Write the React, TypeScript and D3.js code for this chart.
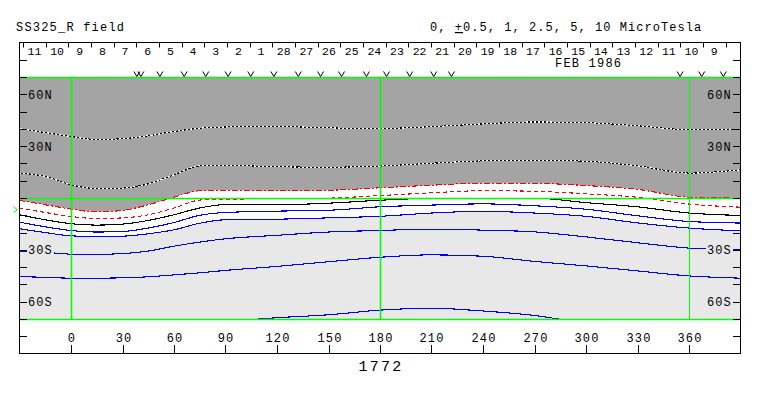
import { useEffect, useRef } from "react";
import * as d3 from "d3";

// Carrington longitudes sampled for the contour lines (lat in degrees)
const lons = [-30, -15, 0, 15, 30, 45, 60, 75, 90, 120, 150, 180, 210, 240, 270, 300, 330, 360, 390];
const dotted1 = [40.1, 37.9, 35.6, 33.8, 34.3, 36.0, 38.5, 40.4, 41.1, 41.4, 40.6, 40.2, 41.3, 42.9, 44.0, 43.6, 41.8, 39.5, 39.9];
const dotted2 = [14.4, 12.5, 7.6, 5.5, 5.7, 8.2, 13.4, 18.6, 18.9, 18.1, 17.8, 18.5, 20.1, 21.5, 21.9, 21.3, 18.6, 14.4, 16.3];
const redUpper = [-1.4, -3.9, -6.4, -8.0, -7.2, -3.9, 0.5, 4.2, 4.6, 4.2, 4.5, 5.9, 7.4, 8.6, 8.5, 7.2, 5.0, 0.5, -0.1];
const redLower = [-5.8, -8.4, -10.7, -11.9, -11.5, -9.7, -5.8, -1.2, -0.6, -0.5, -0.1, 1.4, 3.0, 4.2, 3.9, 2.4, 0.4, -3.5, -5.3];
const blackLine = [-9.7, -12.6, -14.9, -15.7, -15.1, -13.0, -9.7, -5.8, -3.8, -3.9, -3.0, -1.3, -0.2, -0.1, -0.1, -2.7, -5.1, -8.7, -10.1];
const blue1 = [-14.0, -16.7, -18.8, -19.7, -19.4, -17.4, -14.2, -10.0, -8.4, -7.6, -7.1, -5.1, -4.1, -3.4, -4.5, -6.5, -10.3, -13.6, -14.5];
const blue2 = [-17.8, -20.0, -21.9, -22.3, -22.1, -20.7, -18.4, -14.6, -12.6, -12.3, -11.5, -10.6, -8.7, -7.7, -8.7, -10.6, -14.4, -17.4, -19.0];
const blue3 = [-30.9, -31.4, -32.5, -32.6, -32.2, -30.7, -27.9, -25.5, -23.6, -21.6, -19.7, -18.8, -18.0, -18.6, -19.6, -22.5, -25.9, -29.0, -30.0];
const blue4 = [-45.5, -45.9, -46.4, -46.4, -46.2, -45.6, -44.5, -43.3, -41.9, -39.6, -36.9, -34.3, -32.9, -33.7, -36.7, -39.3, -42.2, -45.1, -46.4];
const blue5Lons = [60, 90, 120, 150, 180, 210, 240, 270, 300, 330];
const blue5 = [-74.5, -71.5, -69.3, -67.6, -64.9, -63.8, -65.4, -68.0, -72.5, -75.5];

// observation markers along the top
const passLons = [38.4, 40.7, 51.8, 65.9, 78.5, 91.5, 104.7, 118.2, 132.4, 145.4, 157.6, 172.1, 183.8, 197.3, 211.3, 221.6, 354.8, 367.4, 380.0];
const lonTicks = [0, 30, 60, 90, 120, 150, 180, 210, 240, 270, 300, 330, 360];
const latTicks = [-80, -70, -60, -50, -40, -30, -20, -10, 0, 10, 20, 30, 40, 50, 60, 70, 80];
const latLabels = [
  { lat: 60, text: "60N" },
  { lat: 30, text: "30N" },
  { lat: -30, text: "30S" },
  { lat: -60, text: "60S" },
];
const greenLons = [0, 180, 360];
const greenLats = [70, 0, -70];
const earthLat = -6.8;
const crStart = Date.UTC(1986, 1, 10, 14, 40); // lon 360
const crDays = 27.2753;

const FONT = "'Liberation Mono', 'DejaVu Sans Mono', monospace";
const GRAY = "#a4a4a4";
const LIGHT = "#e8e8e8";
const GREEN = "#00ff00";

export default function App() {
  const svgRef = useRef<SVGSVGElement>(null);

  useEffect(() => {
    if (!svgRef.current) return;
    const svg = d3.select(svgRef.current);
    svg.selectAll("*").remove();

    const x = d3.scaleLinear().domain([-30, 390]).range([19.5, 740.5]);
    const y = d3.scaleLinear().domain([90, -90]).range([42.5, 353.5]);

    const x0 = x(-30), x1 = x(390);
    const yTop = y(70), yBot = y(-70);

    svg.append("rect").attr("width", 763).attr("height", 396).attr("fill", "#fff");

    const clip = svg.append("defs").append("clipPath").attr("id", "map");
    clip.append("rect").attr("x", x0).attr("y", yTop).attr("width", x1 - x0).attr("height", yBot - yTop);

    const map = svg.append("g").attr("clip-path", "url(#map)");

    map.append("rect").attr("x", x0).attr("y", yTop).attr("width", x1 - x0).attr("height", yBot - yTop).attr("fill", LIGHT);

    const whiteArea = d3.area<number>()
      .x((_, i) => x(lons[i]))
      .y0((_, i) => y(blue2[i]))
      .y1((d) => y(d))
      .curve(d3.curveMonotoneX);
    map.append("path").attr("d", whiteArea(redUpper)).attr("fill", "#fff");

    const grayArea = d3.area<number>()
      .x((_, i) => x(lons[i]))
      .y0((d) => y(d))
      .y1(() => y(72))
      .curve(d3.curveMonotoneX);
    map.append("path").attr("d", grayArea(redUpper)).attr("fill", GRAY);

    // horizontal green lines under the contours
    greenLats.forEach((lat) => {
      const yy = Math.round(y(lat)) + 0.5;
      svg.append("line").attr("x1", x0).attr("x2", x1).attr("y1", yy).attr("y2", yy)
        .attr("stroke", GREEN).attr("stroke-width", 1.6);
    });

    const line = d3.line<number>()
      .x((_, i) => x(lons[i]))
      .y((d) => y(d))
      .curve(d3.curveMonotoneX);

    const draw = (vals: number[], color: string, dash?: string) => {
      const p = map.append("path").attr("d", line(vals)).attr("fill", "none")
        .attr("stroke", color).attr("stroke-width", 1.1).attr("shape-rendering", "crispEdges");
      if (dash) p.attr("stroke-dasharray", dash);
    };

    [dotted1, dotted2].forEach((vals) => {
      draw(vals, "#000");
      draw(vals, "#fff", "2,2");
    });
    draw(redUpper, "#ff0000", "6,2,2,2");
    draw(redLower, "#ff0000", "4,3");
    draw(blackLine, "#000");
    [blue1, blue2, blue3, blue4].forEach((vals) => draw(vals, "#0000ff"));

    const line5 = d3.line<number>()
      .x((_, i) => x(blue5Lons[i]))
      .y((d) => y(d))
      .curve(d3.curveMonotoneX);
    map.append("path").attr("d", line5(blue5)).attr("fill", "none").attr("stroke", "#0000ff")
      .attr("stroke-width", 1.1).attr("shape-rendering", "crispEdges");

    // vertical green lines on top
    greenLons.forEach((lon) => {
      const wide = lon !== 360;
      const xx = Math.round(x(lon)) + 0.5;
      svg.append("line").attr("x1", xx).attr("x2", xx)
        .attr("y1", yTop).attr("y2", yBot).attr("stroke", GREEN).attr("stroke-width", wide ? 1.6 : 1);
    });

    // latitude labels with background boxes
    latLabels.forEach((d) => {
      const bg = d.lat > 0 ? GRAY : LIGHT;
      const yy = y(d.lat);
      svg.append("rect").attr("x", 27).attr("y", yy - 5).attr("width", 27).attr("height", 10).attr("fill", bg);
      svg.append("rect").attr("x", 706).attr("y", yy - 5).attr("width", 27).attr("height", 10).attr("fill", bg);
      svg.append("text").attr("x", 28).attr("y", yy + 4.5).attr("font-family", FONT).attr("font-size", 12)
        .attr("letter-spacing", 1.1).attr("fill", "#000").text(d.text);
      svg.append("text").attr("x", 707).attr("y", yy + 4.5).attr("font-family", FONT).attr("font-size", 12)
        .attr("letter-spacing", 1.1).attr("fill", "#000").text(d.text);
    });

    // latitude ticks
    latTicks.forEach((lat) => {
      const yy = Math.round(y(lat)) + 0.5;
      svg.append("line").attr("x1", 19).attr("x2", 27).attr("y1", yy).attr("y2", yy).attr("stroke", "#000");
      svg.append("line").attr("x1", 733).attr("x2", 741).attr("y1", yy).attr("y2", yy).attr("stroke", "#000");
    });

    // longitude axis
    lonTicks.forEach((lon) => {
      const xx = Math.round(x(lon)) + 0.5;
      svg.append("line").attr("x1", xx).attr("x2", xx).attr("y1", 345).attr("y2", 353.5).attr("stroke", "#000");
      svg.append("text").attr("x", xx + 0.5).attr("y", 341.5).attr("text-anchor", "middle")
        .attr("font-family", FONT).attr("font-size", 12).attr("letter-spacing", 1.1).attr("fill", "#000")
        .text(String(lon));
    });

    // time axis along the top (days of earth passage)
    const dateAt = (lon: number) => new Date(crStart + ((360 - lon) / 360) * crDays * 864e5);
    const t = d3.scaleUtc().domain([dateAt(-30), dateAt(390)]).range([x0, x1]);
    const days = d3.utcDay.range(dateAt(390), dateAt(-30));
    days.forEach((d) => {
      const xx = Math.round(t(d)) + 0.5;
      svg.append("line").attr("x1", xx).attr("x2", xx).attr("y1", 42.5).attr("y2", 47.5).attr("stroke", "#000");
      const c = t(new Date(d.getTime() + 12 * 3600e3));
      if (c > x0 + 6 && c < x1 - 6) {
        svg.append("text").attr("x", c).attr("y", 55).attr("text-anchor", "middle")
          .attr("font-family", FONT).attr("font-size", 11.5).attr("fill", "#000")
          .text(String(d.getUTCDate()));
      }
    });

    // observation markers
    passLons.forEach((lon) => {
      const xx = x(lon);
      svg.append("path").attr("d", `M${xx - 3},71.5L${xx},76.5L${xx + 3},71.5`)
        .attr("fill", "none").attr("stroke", "#000").attr("stroke-width", 1);
    });

    // earth latitude marker
    const ye = y(earthLat);
    svg.append("path").attr("d", `M13.5,${ye - 3}L17.5,${ye}L13.5,${ye + 3}`)
      .attr("fill", "none").attr("stroke", GREEN).attr("stroke-width", 1);

    // frame
    svg.append("rect").attr("x", 19.5).attr("y", 42.5).attr("width", 721).attr("height", 311)
      .attr("fill", "none").attr("stroke", "#000").attr("stroke-width", 1);

    // texts
    svg.append("text").attr("x", 16).attr("y", 31).attr("font-family", FONT).attr("font-size", 12)
      .attr("letter-spacing", 1.2).attr("fill", "#000").text("SS325_R field");
    const hdr = svg.append("text").attr("x", 430).attr("y", 31).attr("font-family", FONT).attr("font-size", 12)
      .attr("letter-spacing", 1.05).attr("fill", "#000");
    hdr.append("tspan").text("0, ");
    hdr.append("tspan").style("text-decoration", "underline").text("+");
    hdr.append("tspan").text("0.5, 1, 2.5, 5, 10 MicroTesla");

    svg.append("text").attr("x", 555).attr("y", 67).attr("font-family", FONT).attr("font-size", 12)
      .attr("letter-spacing", 1.2).attr("fill", "#000").text("FEB 1986");

    svg.append("text").attr("x", 381).attr("y", 371).attr("text-anchor", "middle").attr("font-family", FONT)
      .attr("font-size", 15).attr("letter-spacing", 2.2).attr("fill", "#000").text("1772");
  }, []);

  return (
    <svg ref={svgRef} width={763} height={396}
      style={{ position: "absolute", left: 0, top: 0, display: "block" }} />
  );
}
